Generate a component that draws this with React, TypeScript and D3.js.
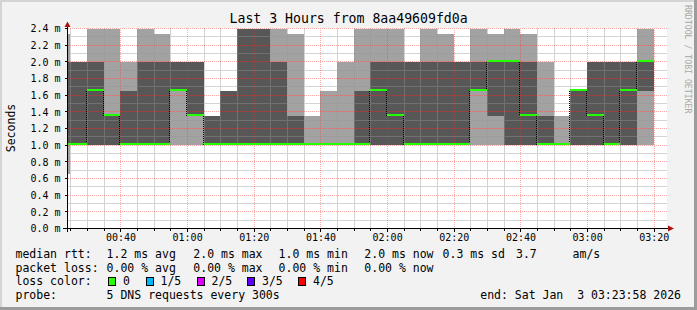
import React from "react";
import * as d3 from "d3";

const W = 697;
const H = 310;

// 5-minute bins (start times, UTC clock) and the five sorted ping values (ms)
const binStarts = [
  "00:20", "00:25", "00:30", "00:35", "00:40", "00:45", "00:50", "00:55",
  "01:00", "01:05", "01:10", "01:15", "01:20", "01:25", "01:30", "01:35",
  "01:40", "01:45", "01:50", "01:55", "02:00", "02:05", "02:10", "02:15",
  "02:20", "02:25", "02:30", "02:35", "02:40", "02:45", "02:50", "02:55",
  "03:00", "03:05", "03:10", "03:15",
];
const ping1 = [
  0.65, 1.0, 1.0, 1.0, 1.0, 1.0, 1.0, 1.0,
  1.0, 1.0, 1.0, 1.0, 1.0, 1.0, 1.0, 1.0,
  1.0, 1.0, 1.0, 1.0, 1.0, 1.0, 1.0, 1.0,
  1.0, 1.0, 1.0, 1.0, 1.0, 1.0, 1.0, 1.0,
  1.0, 1.0, 1.0, 1.0,
];
const ping2 = [
  1.0, 1.0, 1.0, 1.0, 1.0, 1.0, 1.0, 1.65,
  1.35, 1.0, 1.0, 1.0, 1.0, 1.0, 1.0, 1.0,
  1.0, 1.0, 1.0, 1.0, 1.0, 1.0, 1.0, 1.0,
  1.0, 1.65, 1.35, 1.0, 1.0, 1.0, 1.0, 1.0,
  1.0, 1.0, 1.0, 1.65,
];
const medianRtt = [
  1.0, 1.0, 1.65, 1.35, 1.0, 1.0, 1.0, 1.65,
  1.35, 1.0, 1.0, 1.0, 1.0, 1.0, 1.0, 1.0,
  1.0, 1.0, 1.0, 1.65, 1.35, 1.0, 1.0, 1.0,
  1.0, 1.65, 2.0, 2.0, 1.35, 1.0, 1.0, 1.65,
  1.35, 1.0, 1.65, 2.0,
];
const ping4 = [
  2.0, 2.0, 2.0, 1.35, 1.65, 2.0, 2.0, 2.0,
  2.0, 1.35, 1.65, 2.4, 2.4, 2.0, 1.35, 1.0,
  1.0, 1.0, 1.65, 2.0, 2.0, 2.0, 2.0, 2.0,
  2.0, 2.0, 2.0, 2.0, 2.0, 1.35, 1.0, 1.65,
  2.0, 2.0, 2.0, 2.0,
];
const ping5 = [
  2.34, 2.0, 2.4, 2.4, 2.0, 2.4, 2.34, 2.0,
  2.0, 1.35, 1.65, 2.4, 2.4, 2.4, 2.34, 1.35,
  1.65, 2.0, 2.4, 2.4, 2.4, 2.0, 2.4, 2.34,
  2.0, 2.4, 2.34, 2.4, 2.34, 2.0, 1.35, 1.65,
  2.0, 2.0, 2.0, 2.4,
];
const lossCount = [
  0, 0, 0, 0, 0, 0, 0, 0, 0, 0, 0, 0, 0, 0, 0, 0, 0, 0,
  0, 0, 0, 0, 0, 0, 0, 0, 0, 0, 0, 0, 0, 0, 0, 0, 0, 0,
];

const yTickValues = [0, 0.2, 0.4, 0.6, 0.8, 1.0, 1.2, 1.4, 1.6, 1.8, 2.0, 2.2, 2.4];
const minorYValues = [0.1, 0.3, 0.5, 0.7, 0.9, 1.1, 1.3, 1.5, 1.7, 1.9, 2.1, 2.3];
const lossLabels = ["0", "1/5", "2/5", "3/5", "4/5"];
const lossColors = ["#26ff00", "#00b8ff", "#dd00ff", "#5e00ff", "#ff0000"];

const titleText = "Last 3 Hours from 8aa49609fd0a";
const yAxisTitle = "Seconds";
const watermark = "RRDTOOL / TOBI OETIKER";
const rttLegend = ["median rtt:", "1.2 ms avg", "2.0 ms max", "1.0 ms min", "2.0 ms now", "0.3 ms sd", "3.7", "am/s"];
const lossLegend = ["packet loss:", "0.00 % avg", "0.00 % max", "0.00 % min", "0.00 % now"];
const colorLegendTitle = "loss color:";
const probeLegend = ["probe:", "5 DNS requests every 300s"];
const endLegend = "end: Sat Jan  3 03:23:58 2026";

// layout
const rowX = [15.5, 106.6, 193.3, 278.6, 364.3, 442.6, 516, 572.6];
const swatchX = [108.5, 146, 197, 247.5, 298.5];
const rowY = [258, 271.6, 285.3, 299];

const MONO = "'DejaVu Sans Mono', monospace";
const DARK = "#575757";
const LIGHT = "#a2a2a2";
const ARROW = "#a81414";

export default function App() {
  const start = new Date(Date.UTC(2026, 0, 3, 0, 23, 58));
  const end = new Date(Date.UTC(2026, 0, 3, 3, 23, 58));
  const x = d3.scaleUtc().domain([start, end]).range([67, 667]);
  const y = d3.scaleLinear().domain([0, 2.4]).range([228.5, 28.5]);
  const L = 67, R = 667, T = 28, B = 228;

  const parse = (s: string) => {
    const [h, m] = s.split(":").map(Number);
    return new Date(Date.UTC(2026, 0, 3, h, m));
  };
  const bins = binStarts.map((s, i) => {
    const t0 = parse(s);
    const t1 = d3.utcMinute.offset(t0, 5);
    return {
      x0: Math.max(L, Math.round(x(t0))),
      x1: Math.min(R, Math.round(x(t1))),
      p1: ping1[i], p2: ping2[i], med: medianRtt[i], p4: ping4[i], p5: ping5[i],
      loss: lossCount[i],
    };
  });

  const fiveMin = d3.utcMinute.range(d3.utcMinute.ceil(start), end, 1).filter((d) => d.getUTCMinutes() % 5 === 0);
  const minorX = fiveMin.filter((d) => d.getUTCMinutes() % 20 !== 0);
  const majorX = fiveMin.filter((d) => d.getUTCMinutes() % 20 === 0);
  const majorY = yTickValues.filter((v) => v > 0);
  const fmt = d3.utcFormat("%H:%M");
  const hy = (v: number) => Math.floor(y(v));
  const vx = (d: Date) => Math.round(x(d));

  const hDots = (yy: number) => d3.range(L + 1, R, 2).map((xx) => `M${xx},${yy}h1v1h-1z`).join("");
  const vDots = (xx: number) => d3.range(T, B, 2).map((yy) => `M${xx},${yy}h1v1h-1z`).join("");
  const minorLines =
    minorYValues.map((v) => `M${L},${hy(v)}h${R - L}v1h${L - R}z`).join("") +
    minorX.map((d) => `M${vx(d)},${T}h1v${B - T}h-1z`).join("");
  const majorPath = majorY.map((v) => hDots(hy(v))).join("") + majorX.map((d) => vDots(vx(d))).join("");
  const transPath = bins.slice(1).map((b, i) => {
    const prev = bins[i];
    if (prev.med === b.med) return "";
    const ya = Math.round(Math.min(y(prev.med), y(b.med)));
    const yb = Math.round(Math.max(y(prev.med), y(b.med)));
    return d3.range(ya, yb, 2).map((yy) => `M${b.x0 - 1},${yy}h1v1h-1z`).join("");
  }).join("");

  return (
    <svg width={W} height={H} style={{ display: "block", position: "absolute", left: 0, top: 0 }}>
      <rect x={0} y={0} width={W} height={H} fill="#f2f2f2" />
      {/* 3D border */}
      <rect x={0} y={0} width={W} height={2} fill="#d4d4d4" />
      <rect x={0} y={0} width={2} height={H} fill="#d4d4d4" />
      <rect x={0} y={H - 3} width={W} height={3} fill="#9c9c9c" />
      <rect x={W - 3} y={0} width={3} height={H} fill="#9c9c9c" />

      {/* plot background */}
      <rect x={L} y={T} width={R - L} height={B - T} fill="#ffffff" />

      <g shapeRendering="crispEdges">
        {/* smoke: outer pair */}
        {bins.map((b, i) => (
          <rect key={"l" + i} x={b.x0} width={b.x1 - b.x0} y={y(b.p5)} height={Math.max(0, y(b.p1) - y(b.p5))} fill={LIGHT} />
        ))}
        {/* smoke: inner pair */}
        {bins.map((b, i) => (
          <rect key={"d" + i} x={b.x0} width={b.x1 - b.x0} y={y(b.p4)} height={Math.max(0, y(b.p2) - y(b.p4))} fill={DARK} />
        ))}

        {/* grid */}
        <path d={minorLines} fill="#969696" fillOpacity={0.42} />
        <path d={majorPath} fill="#ff3030" fillOpacity={0.42} />

        {/* median transitions */}
        <path d={transPath} fill="#000" />
        {/* median line */}
        {bins.map((b, i) => (
          <rect key={"m" + i} x={b.x0} width={b.x1 - b.x0} y={Math.round(y(b.med)) - 2} height={2} fill={lossColors[b.loss]} />
        ))}

        {/* axes */}
        <rect x={63} y={228} width={606} height={1} fill="#000" />
        <rect x={67} y={26} width={1} height={206} fill="#000" />
        {yTickValues.map((v, i) => (
          <rect key={"yt" + i} x={65} y={hy(v)} width={2} height={1} fill="#000" />
        ))}
        {majorX.map((d, i) => (
          <rect key={"xt" + i} x={vx(d)} y={229} width={1} height={3} fill="#000" />
        ))}
        {minorX.map((d, i) => (
          <rect key={"xm" + i} x={vx(d)} y={229} width={1} height={2} fill="#000" />
        ))}
      </g>
      <path d="M668,225.5 L674,228.5 L668,231.5 Z" fill={ARROW} />
      <path d="M64.5,27 L67.5,21.5 L70.5,27 Z" fill={ARROW} />

      {/* y labels */}
      {yTickValues.map((v, i) => (
        <text key={"yl" + i} x={60.5} y={y(v) + 3.7} textAnchor="end" fontFamily={MONO} fontSize={10} fill="#000">
          {v.toFixed(1) + " m"}
        </text>
      ))}
      {/* x labels */}
      {majorX.map((d, i) => (
        <text key={"xl" + i} x={x(d) + 0.5} y={241} textAnchor="middle" fontFamily={MONO} fontSize={10} fill="#000">
          {fmt(d)}
        </text>
      ))}

      <text x={348.6} y={23.2} textAnchor="middle" fontFamily={MONO} fontSize={13.2} fill="#000">{titleText}</text>
      <text transform="translate(15,128) rotate(-90)" textAnchor="middle" fontFamily={MONO} fontSize={11.5} fill="#000">{yAxisTitle}</text>
      <text transform="translate(685,5) rotate(90)" textAnchor="start" fontFamily={MONO} fontSize={8.2} fill="#a8a8a8">{watermark}</text>

      {/* legend */}
      <g fontFamily={MONO} fontSize={11.5} fill="#000">
        {rttLegend.map((s, i) => (
          <text key={"r" + i} x={rowX[i]} y={rowY[0]}>{s}</text>
        ))}
        {lossLegend.map((s, i) => (
          <text key={"p" + i} x={rowX[i]} y={rowY[1]}>{s}</text>
        ))}
        <text x={rowX[0]} y={rowY[2]}>{colorLegendTitle}</text>
        {lossLabels.map((s, i) => (
          <g key={"c" + i}>
            <rect x={swatchX[i]} y={277.5} width={7} height={8} fill={lossColors[i]} stroke="#000" strokeWidth={1} shapeRendering="crispEdges" />
            <text x={swatchX[i] + 14.5} y={rowY[2]}>{s}</text>
          </g>
        ))}
        <text x={rowX[0]} y={rowY[3]}>{probeLegend[0]}</text>
        <text x={rowX[1]} y={rowY[3]}>{probeLegend[1]}</text>
        <text x={681} y={rowY[3]} textAnchor="end" style={{ whiteSpace: "pre" }}>{endLegend}</text>
      </g>
    </svg>
  );
}
